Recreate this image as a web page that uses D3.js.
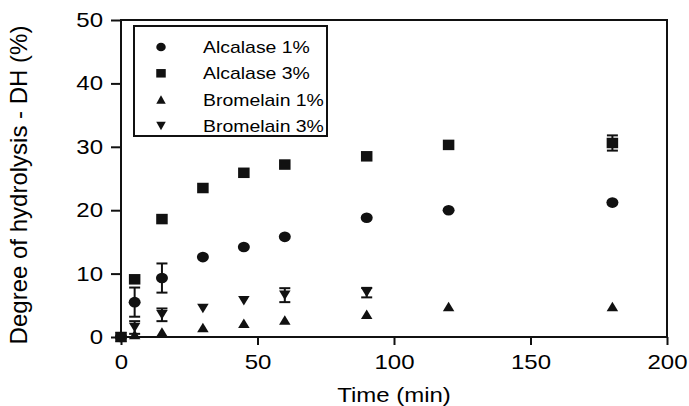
<!DOCTYPE html>
<html>
<head>
<meta charset="utf-8">
<script src="https://cdn.jsdelivr.net/npm/d3@7"></script>
<style>
  body { margin: 0; background: #fff; }
  svg { display: block; font-family: "Liberation Sans", Arial, sans-serif; }
</style>
</head>
<body>
<div id="chart"></div>
<script>
// sampling times (min)
const times = [0, 5, 15, 30, 45, 60, 90, 120, 180];
const timesBrom3 = [0, 5, 15, 30, 45, 60, 90];

// degree of hydrolysis (%) per series
const alcalase1 = [0, 5.5, 9.3, 12.6, 14.2, 15.8, 18.8, 20.0, 21.2];
const alcalase1Err = [0, 2.3, 2.3, 0, 0, 0, 0, 0, 0];
const alcalase3 = [0, 9.1, 18.6, 23.5, 25.9, 27.2, 28.5, 30.3, 30.6];
const alcalase3Err = [0, 0, 0, 0, 0, 0, 0, 0, 1.2];
const bromelain1 = [0, 0.4, 0.8, 1.5, 2.15, 2.7, 3.6, 4.8, 4.8];
const bromelain3 = [0, 1.5, 3.5, 4.5, 5.7, 6.6, 7.0];
const bromelain3Err = [0, 1.0, 1.0, 0, 0, 1.1, 0.75];

const xTicks = [0, 50, 100, 150, 200];
const yTicks = [0, 10, 20, 30, 40, 50];
const seriesNames = ["Alcalase 1%", "Alcalase 3%", "Bromelain 1%", "Bromelain 3%"];

const series = [
  { name: seriesNames[0], t: times, v: alcalase1, e: alcalase1Err, shape: "circle" },
  { name: seriesNames[1], t: times, v: alcalase3, e: alcalase3Err, shape: "square" },
  { name: seriesNames[2], t: times, v: bromelain1, e: null, shape: "up" },
  { name: seriesNames[3], t: timesBrom3, v: bromelain3, e: bromelain3Err, shape: "down" },
];

const W = 689, H = 406;
const margin = { top: 20, right: 22, bottom: 69, left: 121 };
const width = W - margin.left - margin.right;
const height = H - margin.top - margin.bottom;
const ink = "#111";
const sx = 1.2; // the figure's text and markers are a bit wide

const svg = d3.select("#chart").append("svg").attr("width", W).attr("height", H);
const g = svg.append("g").attr("transform", "translate(" + margin.left + "," + margin.top + ")");

const x = d3.scaleLinear().domain([0, 200]).range([0, width]);
const y = d3.scaleLinear().domain([0, 50]).range([height, 0]);

// axes
const xAxis = g.append("g")
  .attr("transform", "translate(0," + height + ")")
  .call(d3.axisBottom(x).tickValues(xTicks).tickSize(8).tickSizeOuter(0));
xAxis.selectAll("text").attr("y", 18).attr("transform", "scale(" + sx + ",1)");

const yAxis = g.append("g")
  .call(d3.axisLeft(y).tickValues(yTicks).tickSize(10).tickSizeOuter(0));
yAxis.selectAll("text").attr("x", -18 / sx).attr("transform", "scale(" + sx + ",1)");

[xAxis, yAxis].forEach(a => {
  a.select(".domain").remove();
  a.selectAll("line").attr("stroke", ink).attr("stroke-width", 2);
  a.selectAll("text").attr("fill", "#000").style("font-size", "20px")
    .style("font-family", "'Liberation Sans', Arial, sans-serif");
});

// frame
g.append("rect")
  .attr("x", 0).attr("y", 0)
  .attr("width", width).attr("height", height)
  .attr("fill", "none").attr("stroke", ink).attr("stroke-width", 2);

// axis titles
svg.append("text")
  .attr("transform", "translate(" + (margin.left + width / 2) + ",402) scale(" + sx + ",1)")
  .attr("text-anchor", "middle")
  .style("font-size", "20px")
  .text("Time (min)");

svg.append("text")
  .attr("transform", "translate(27,185) rotate(-90)")
  .attr("text-anchor", "middle")
  .style("font-size", "24px")
  .text("Degree of hydrolysis - DH (%)");

// marker drawing
function marker(sel, shape, cx, cy, w, h) {
  if (shape === "circle") {
    sel.append("ellipse").attr("cx", cx).attr("cy", cy).attr("rx", w / 2).attr("ry", h / 2).attr("fill", ink);
  } else if (shape === "square") {
    sel.append("rect").attr("x", cx - w / 2).attr("y", cy - h / 2).attr("width", w).attr("height", h).attr("fill", ink);
  } else if (shape === "up") {
    sel.append("path").attr("fill", ink)
      .attr("d", `M${cx - w / 2},${cy + h / 2}L${cx + w / 2},${cy + h / 2}L${cx},${cy - h / 2}Z`);
  } else {
    sel.append("path").attr("fill", ink)
      .attr("d", `M${cx - w / 2},${cy - h / 2}L${cx + w / 2},${cy - h / 2}L${cx},${cy + h / 2}Z`);
  }
}

const sizes = {
  circle: [12, 10.6],
  square: [11.5, 10.5],
  up: [11.5, 9.5],
  down: [11.5, 9.5],
};

// error bars first, markers on top
const bars = g.append("g");
series.forEach(s => {
  if (!s.e) return;
  s.t.forEach((t, i) => {
    const err = s.e[i];
    if (!err) return;
    const cx = x(t);
    const y1 = y(s.v[i] + err), y0 = y(s.v[i] - err);
    bars.append("line").attr("x1", cx).attr("x2", cx).attr("y1", y1).attr("y2", y0)
      .attr("stroke", ink).attr("stroke-width", 2);
    [y1, y0].forEach(yy => {
      bars.append("line").attr("x1", cx - 5.5).attr("x2", cx + 5.5).attr("y1", yy).attr("y2", yy)
        .attr("stroke", ink).attr("stroke-width", 2);
    });
  });
});

const pts = g.append("g");
series.forEach(s => {
  const [w, h] = sizes[s.shape];
  s.t.forEach((t, i) => marker(pts, s.shape, x(t), y(s.v[i]), w, h));
});

// legend
const legend = svg.append("g");
legend.append("rect")
  .attr("x", 134).attr("y", 26).attr("width", 193).attr("height", 110)
  .attr("fill", "#fff").attr("stroke", ink).attr("stroke-width", 2);

series.forEach((s, i) => {
  const cy = 47 + i * 26.3;
  marker(legend, s.shape, 161, cy, 9.5, 8.5);
  legend.append("text")
    .attr("transform", "translate(203," + (cy + 6) + ") scale(" + sx + ",1)")
    .style("font-size", "16.2px")
    .attr("fill", "#000")
    .text(s.name);
});
</script>
</body>
</html>
